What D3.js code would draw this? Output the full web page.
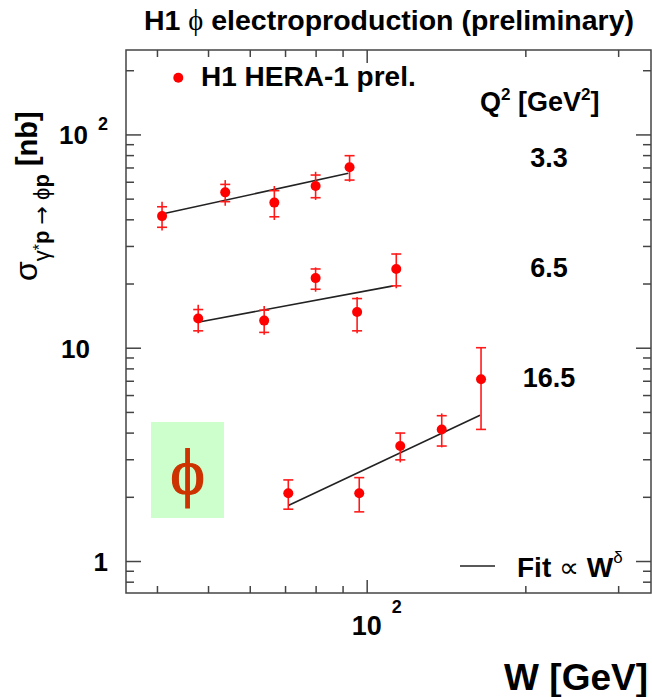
<!DOCTYPE html>
<html>
<head>
<meta charset="utf-8">
<script src="https://cdn.jsdelivr.net/npm/d3@7"></script>
<style>
  body { margin: 0; background: #fff; }
  text { font-family: "Liberation Sans", Arial, Helvetica, sans-serif; }
</style>
</head>
<body>
<svg id="chart"></svg>
<script>
// --- values ----------------------------------------------------------------
const q2Labels = ['3.3', '6.5', '16.5'];

// Q2 = 3.3 GeV2
const w33      = [40.9, 53.9, 66.8, 80.0, 92.8];
const sig33    = [41.4, 53.5, 47.9, 57.3, 70.1];
const statHi33 = [45.8, 58.3, 54.5, 64.5, 79.5];
const statLo33 = [36.7, 48.4, 41.1, 50.5, 61.1];
const totHi33  = [48.4, 61.1, 57.3, 66.8, 80.1];
const totLo33  = [35.4, 46.3, 39.7, 49.3, 60.0];
const fit33    = [[40.9, 42.4], [92.3, 65.7]];

// Q2 = 6.5 GeV2
const w65      = [47.9, 63.9, 80.0, 95.9, 113.8];
const sig65    = [13.7, 13.4, 21.2, 14.7, 23.4];
const statHi65 = [15.1, 15.0, 23.4, 17.0, 27.5];
const statLo65 = [12.0, 11.8, 18.8, 12.0, 19.5];
const totHi65  = [15.9, 15.7, 23.8, 17.3, 27.7];
const totLo65  = [11.7, 11.5, 18.3, 11.7, 19.0];
const fit65    = [[48.1, 13.2], [112.3, 19.5]];

// Q2 = 16.5 GeV2
const w165      = [71.0, 96.8, 115.8, 138.8, 164.8];
const sig165    = [2.08, 2.08, 3.46, 4.14, 7.11];
const statHi165 = [2.40, 2.46, 3.98, 4.80, 10.0];
const statLo165 = [1.75, 1.70, 2.98, 3.46, 4.14];
const totHi165  = [2.40, 2.46, 4.00, 4.92, 10.0];
const totLo165  = [1.75, 1.70, 2.90, 3.41, 4.14];
const fit165    = [[71.0, 1.82], [164.1, 4.82]];

const xMajor = [100];
const xMinor = [40, 50, 60, 70, 80, 90, 200, 300];
const yMajor = [1, 10, 100];
const yMinor = [0.8, 0.9, 2, 3, 4, 5, 6, 7, 8, 9, 20, 30, 40, 50, 60, 70, 80, 90, 200];
// ---------------------------------------------------------------------------

const W = 652, H = 697;
const frame = {left: 126, right: 651, top: 50, bottom: 593};

const svg = d3.select('#chart')
  .attr('width', W)
  .attr('height', H)
  .style('display', 'block');

svg.append('rect').attr('width', W).attr('height', H).attr('fill', '#fff');

const x = d3.scaleLog()
  .domain([34.94, 346.3])
  .range([frame.left, frame.right]);

const y = d3.scaleLog()
  .domain([0.708, 248.8])
  .range([frame.bottom, frame.top]);

const makeSeries = (w, sig, sHi, sLo, tHi, tLo) =>
  w.map((d, i) => ({w: d, s: sig[i], sHi: sHi[i], sLo: sLo[i], tHi: tHi[i], tLo: tLo[i]}));

const series = [
  {label: q2Labels[0], points: makeSeries(w33, sig33, statHi33, statLo33, totHi33, totLo33), fit: fit33},
  {label: q2Labels[1], points: makeSeries(w65, sig65, statHi65, statLo65, totHi65, totLo65), fit: fit65},
  {label: q2Labels[2], points: makeSeries(w165, sig165, statHi165, statLo165, totHi165, totLo165), fit: fit165}
];

// phi box
svg.append('rect')
  .attr('x', 151).attr('y', 422)
  .attr('width', 73).attr('height', 96)
  .attr('fill', '#ccffcc');

svg.append('text')
  .attr('x', 187.5).attr('y', 494)
  .attr('text-anchor', 'middle')
  .style('font-family', '"Liberation Serif", "DejaVu Serif", serif')
  .style('font-size', '66px')
  .attr('fill', '#cc3300')
  .attr('stroke', '#cc3300')
  .attr('stroke-width', 1.2)
  .text('\u03D5');

// frame
svg.append('rect')
  .attr('x', frame.left).attr('y', frame.top)
  .attr('width', frame.right - frame.left)
  .attr('height', frame.bottom - frame.top)
  .attr('fill', 'none')
  .attr('stroke', '#444')
  .attr('stroke-width', 1.5);

function ticks(axis, values, size, transform) {
  svg.append('g')
    .attr('transform', transform)
    .call(axis.tickValues(values).tickSize(size).tickFormat('').tickSizeOuter(0))
    .call(g => g.select('.domain').remove())
    .selectAll('line')
    .attr('stroke', '#444')
    .attr('stroke-width', 1.5);
}

ticks(d3.axisBottom(x), xMajor, -13, `translate(0,${frame.bottom})`);
ticks(d3.axisBottom(x), xMinor, -7, `translate(0,${frame.bottom})`);
ticks(d3.axisTop(x), xMajor, -13, `translate(0,${frame.top})`);
ticks(d3.axisTop(x), xMinor, -7, `translate(0,${frame.top})`);
ticks(d3.axisLeft(y), yMajor, -15, `translate(${frame.left},0)`);
ticks(d3.axisLeft(y), yMinor, -8, `translate(${frame.left},0)`);
ticks(d3.axisRight(y), yMajor, -15, `translate(${frame.right},0)`);
ticks(d3.axisRight(y), yMinor, -8, `translate(${frame.right},0)`);

// fits
const line = d3.line().x(d => x(d[0])).y(d => y(d[1]));
svg.append('g')
  .selectAll('path')
  .data(series)
  .join('path')
  .attr('d', d => line(d.fit))
  .attr('fill', 'none')
  .attr('stroke', '#222')
  .attr('stroke-width', 1.6);

// data points
const pts = svg.append('g')
  .selectAll('g')
  .data(series.flatMap(s => s.points))
  .join('g')
  .attr('stroke', '#ff1a1a')
  .attr('stroke-width', 1.6);

pts.append('line')
  .attr('x1', d => x(d.w)).attr('x2', d => x(d.w))
  .attr('y1', d => y(d.tLo)).attr('y2', d => y(d.tHi));

pts.append('line')
  .attr('x1', d => x(d.w) - 5).attr('x2', d => x(d.w) + 5)
  .attr('y1', d => y(d.sHi)).attr('y2', d => y(d.sHi));

pts.append('line')
  .attr('x1', d => x(d.w) - 5).attr('x2', d => x(d.w) + 5)
  .attr('y1', d => y(d.sLo)).attr('y2', d => y(d.sLo));

pts.append('circle')
  .attr('cx', d => x(d.w)).attr('cy', d => y(d.s))
  .attr('r', 5)
  .attr('fill', '#ff0000')
  .attr('stroke', 'none');

// Q2 labels
svg.append('g')
  .selectAll('text')
  .data(series)
  .join('text')
  .attr('x', 549)
  .attr('y', (d, i) => [167, 277, 387][i])
  .attr('text-anchor', 'middle')
  .style('font-size', '27px')
  .style('font-weight', 'bold')
  .text(d => d.label);

// title
const title = svg.append('text')
  .attr('x', 389).attr('y', 30)
  .attr('text-anchor', 'middle')
  .style('font-size', '28.5px')
  .style('font-weight', 'bold');
title.append('tspan').text('H1 ');
title.append('tspan')
  .style('font-weight', 'normal')
  .style('font-family', '"Liberation Serif", "DejaVu Serif", serif')
  .text('\u03D5');
title.append('tspan').text(' electroproduction (preliminary)');

// legend
svg.append('circle')
  .attr('cx', 178.3).attr('cy', 77.7).attr('r', 5)
  .attr('fill', '#ff0000');
svg.append('text')
  .attr('x', 201).attr('y', 86)
  .style('font-size', '28px')
  .style('font-weight', 'bold')
  .text('H1 HERA-1 prel.');

// Q2 header
const qh = svg.append('text')
  .attr('x', 480).attr('y', 111)
  .style('font-size', '27px')
  .style('font-weight', 'bold');
qh.append('tspan').text('Q');
qh.append('tspan').attr('dy', -11).style('font-size', '17px').text('2');
qh.append('tspan').attr('dy', 11).text(' [GeV');
qh.append('tspan').attr('dy', -11).style('font-size', '17px').text('2');
qh.append('tspan').attr('dy', 11).text(']');

// fit legend
svg.append('line')
  .attr('x1', 460).attr('x2', 495)
  .attr('y1', 566).attr('y2', 566)
  .attr('stroke', '#222').attr('stroke-width', 1.6);
const fl = svg.append('text')
  .attr('x', 517).attr('y', 577)
  .style('font-size', '28px')
  .style('font-weight', 'bold');
fl.append('tspan').text('Fit ');
fl.append('tspan').style('font-weight', 'normal').text('\u221D');
fl.append('tspan').text(' W');
fl.append('tspan').attr('dy', -14).style('font-size', '17px').style('font-weight', 'normal').text('\u03B4');

// x axis label and tick label
svg.append('text')
  .attr('x', 648).attr('y', 690)
  .attr('text-anchor', 'end')
  .style('font-size', '37px')
  .style('font-weight', 'bold')
  .text('W [GeV]');

svg.append('text')
  .attr('x', x(100)).attr('y', 635)
  .attr('text-anchor', 'middle')
  .style('font-size', '27px')
  .style('font-weight', 'bold')
  .text('10');
svg.append('text')
  .attr('x', x(100) + 25).attr('y', 613)
  .style('font-size', '18px')
  .style('font-weight', 'bold')
  .text('2');

// y tick labels
svg.append('text')
  .attr('x', 88).attr('y', y(100) + 10)
  .attr('text-anchor', 'end')
  .style('font-size', '26px')
  .style('font-weight', 'bold')
  .text('10');
svg.append('text')
  .attr('x', 98).attr('y', y(100) - 4)
  .style('font-size', '18px')
  .style('font-weight', 'bold')
  .text('2');
svg.append('text')
  .attr('x', 90).attr('y', y(10) + 10)
  .attr('text-anchor', 'end')
  .style('font-size', '26px')
  .style('font-weight', 'bold')
  .text('10');
svg.append('text')
  .attr('x', 108).attr('y', y(1) + 10)
  .attr('text-anchor', 'end')
  .style('font-size', '26px')
  .style('font-weight', 'bold')
  .text('1');

// y axis label
const yl = svg.append('text')
  .attr('transform', 'translate(37,281) rotate(-90)')
  .style('font-size', '32px');
yl.append('tspan').text('\u03C3');
yl.append('tspan').attr('dy', 12).style('font-size', '22px').text('\u03B3');
yl.append('tspan').attr('dy', -4).style('font-size', '16px').text('*');
yl.append('tspan').attr('dy', 4).style('font-size', '22px').style('font-weight', 'bold').text('p ');
yl.append('tspan').style('font-size', '22px').style('font-family', '"DejaVu Sans", sans-serif').text('\u2192');
yl.append('tspan').style('font-size', '22px').text(' \u03D5');
yl.append('tspan').style('font-size', '22px').style('font-weight', 'bold').text('p');
yl.append('tspan').attr('dy', -12).style('font-weight', 'bold').style('font-size', '29px').text(' [nb]');
</script>
</body>
</html>
